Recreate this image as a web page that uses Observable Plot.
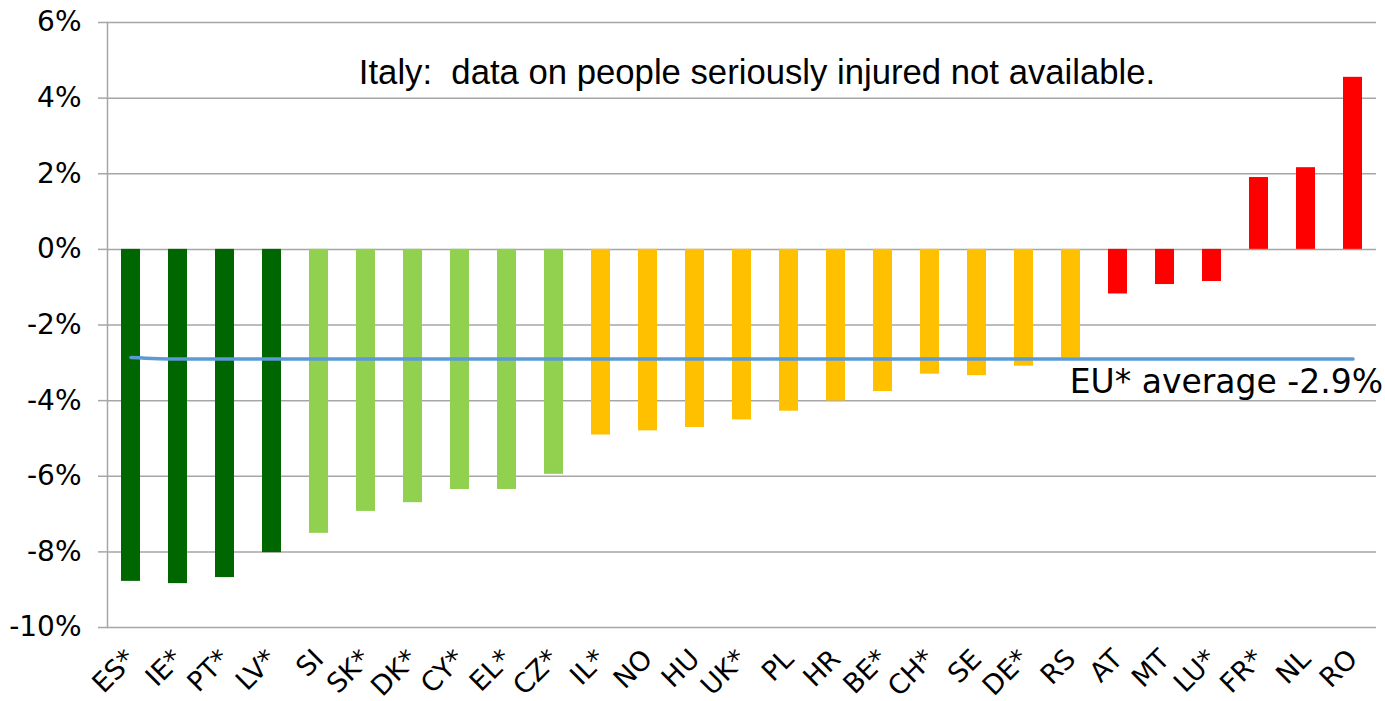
<!DOCTYPE html>
<html>
<head>
<meta charset="utf-8">
<script src="https://cdn.jsdelivr.net/npm/d3@7"></script>
<script src="https://cdn.jsdelivr.net/npm/@observablehq/plot@0.6"></script>
<style>
  html, body { margin: 0; padding: 0; background: #ffffff; }
  #chart { width: 1385px; height: 701px; }
</style>
</head>
<body>
<div id="chart"></div>
<script>
const categories = ["ES*","IE*","PT*","LV*","SI","SK*","DK*","CY*","EL*","CZ*","IL*","NO","HU","UK*","PL","HR","BE*","CH*","SE","DE*","RS","AT","MT","LU*","FR*","NL","RO"];
const changes = [-8.78,-8.84,-8.68,-8.02,-7.51,-6.93,-6.70,-6.35,-6.35,-5.95,-4.91,-4.80,-4.71,-4.51,-4.28,-4.01,-3.76,-3.30,-3.34,-3.09,-2.87,-1.18,-0.93,-0.85,1.90,2.16,4.55];
const groups = ["best","best","best","best","better","better","better","better","better","better","worse","worse","worse","worse","worse","worse","worse","worse","worse","worse","worse","worst","worst","worst","worst","worst","worst"];
const euAverage = [-2.86,-2.9,-2.9,-2.9,-2.9,-2.9,-2.9,-2.9,-2.9,-2.9,-2.9,-2.9,-2.9,-2.9,-2.9,-2.9,-2.9,-2.9,-2.9,-2.9,-2.9,-2.9,-2.9,-2.9,-2.9,-2.9,-2.9];
const yTicks = [-10,-8,-6,-4,-2,0,2,4,6];
const groupNames = ["best","better","worse","worst"];
const groupColors = ["#006600","#92D050","#FFC000","#FF0000"];
const italyNote = "Italy:  data on people seriously injured not available.";
const euLabel = "EU* average -2.9%";

const data = categories.map((c, i) => ({country: c, value: changes[i], group: groups[i], eu: euAverage[i]}));

const chart = Plot.plot({
  width: 1385,
  height: 701,
  marginLeft: 107,
  marginRight: 9,
  marginTop: 22,
  marginBottom: 74,
  style: {fontFamily: "DejaVu Sans", background: "#ffffff", color: "#000000"},
  x: {domain: categories, paddingInner: 0.6, paddingOuter: 0.3, label: null},
  y: {domain: [-10, 6], label: null},
  color: {domain: groupNames, range: groupColors},
  marks: [
    Plot.gridY(yTicks, {stroke: "#A6A6A6", strokeOpacity: 1, strokeWidth: 1.5}),
    Plot.frame({anchor: "left", stroke: "#A6A6A6", strokeWidth: 1.5}),
    Plot.axisY(yTicks, {tickSize: 9, tickPadding: 17, stroke: "#A6A6A6", strokeWidth: 1.5, fontSize: 28, tickFormat: d => d + "%", label: null}),
    Plot.axisX({tickSize: 0, tickRotate: -45, tickPadding: 27, fontSize: 27, label: null}),
    Plot.barY(data, {x: "country", y: "value", fill: "group"}),
    Plot.lineY(data, {x: "country", y: "eu", stroke: "#5B9BD5", strokeWidth: 3.5, curve: "monotone-x"}),
    Plot.text([italyNote], {frameAnchor: "top", dx: 15, dy: 37, fontSize: 34.7, fontFamily: "Liberation Sans", fill: "#000000"}),
    Plot.text([euLabel], {x: () => categories[categories.length - 1], y: () => euAverage[euAverage.length - 1], textAnchor: "end", dx: 30, dy: 23, fontSize: 33, fill: "#000000"})
  ]
});
document.getElementById("chart").appendChild(chart);
</script>
</body>
</html>
